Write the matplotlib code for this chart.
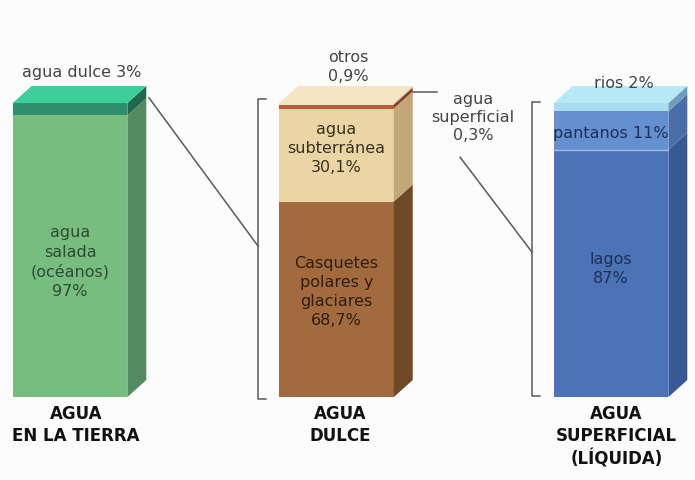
import numpy as np
import matplotlib.pyplot as plt
from matplotlib.patches import Polygon

# data: each column is a stack, bottom segment first (percent)
tierra_vals = [97, 3]
dulce_vals = [68.7, 30.1, 0.9, 0.3]
superficial_vals = [87, 11, 2]

tierra_labels = ["agua\nsalada\n(océanos)\n97%", "agua dulce 3%"]
dulce_labels = ["Casquetes\npolares y\nglaciares\n68,7%", "agua\nsubterránea\n30,1%", "otros\n0,9%", "agua\nsuperficial\n0,3%"]
superficial_labels = ["lagos\n87%", "pantanos 11%", "rios 2%"]
titles = ["AGUA\nEN LA TIERRA", "AGUA\nDULCE", "AGUA\nSUPERFICIAL\n(LÍQUIDA)"]

# colours (front, side) per segment, plus a top face colour per stack
tierra_front = ["#77bd80", "#2f8e6e"]
tierra_side = ["#548c60", "#22684f"]
dulce_front = ["#a36a3d", "#ecd5a4", "#b85a3e", "#f2e4c2"]
dulce_side = ["#6e4a28", "#c2a878", "#8a3e2c", "#d2bd93"]
sup_front = ["#4b73b5", "#6590d0", "#a8dcef"]
sup_side = ["#375a94", "#4a6ea8", "#6f9cc0"]
top_cols = ["#3ccf9c", "#f4e6c4", "#b6e9f6"]

fig = plt.figure(figsize=(6.95, 4.81), dpi=100)
ax = fig.add_axes([0, 0, 1, 1])
ax.set_xlim(-0.2588, 2.3105)
ax.set_ylim(-28.2, 135.4)
ax.axis("off")
fig.patch.set_facecolor("#fcfcfc")

xpos = [0, 0.985, 2]
w = 0.424
dx = 0.07
dy = 5.8
lc = "#5a5a5a"


def shares(vals):
    # mild compression so the thin slices stay visible, total kept at 100
    v = np.array(vals, dtype=float) ** 0.9
    return v / v.sum() * 100


def draw_stack(x, vals, fronts, sides, topc):
    h = shares(vals)
    bottoms = np.concatenate([[0], np.cumsum(h)[:-1]])
    ax.bar([x] * len(h), h, bottom=bottoms, width=w, color=fronts, linewidth=0, zorder=2)
    r = x + w / 2
    for b, v, sc in zip(bottoms, h, sides):
        ax.add_patch(Polygon([(r, b), (r + dx, b + dy), (r + dx, b + v + dy), (r, b + v)],
                             closed=True, facecolor=sc, edgecolor="none", zorder=2))
    top = bottoms[-1] + h[-1]
    ax.add_patch(Polygon([(x - w / 2, top), (x - w / 2 + dx, top + dy), (r + dx, top + dy), (r, top)],
                         closed=True, facecolor=topc, edgecolor="none", zorder=2))
    return bottoms, h, top


tb, th, ttop = draw_stack(xpos[0], tierra_vals, tierra_front, tierra_side, top_cols[0])
db, dh, dtop = draw_stack(xpos[1], dulce_vals, dulce_front, dulce_side, top_cols[1])
sb, sh, stop = draw_stack(xpos[2], superficial_vals, sup_front, sup_side, top_cols[2])

# thin light seam between lagos and pantanos
ax.plot([xpos[2] - w / 2, xpos[2] + w / 2], [sb[1], sb[1]], color="#9fbde8", lw=1, zorder=3)

fs = 11.5
ls = 1.35
# labels inside / around bars
ax.text(xpos[0], 46.3, tierra_labels[0], ha="center", va="center", fontsize=fs, color="#2e4a32", linespacing=ls, zorder=3)
ax.text(0.044, ttop + dy + 5, tierra_labels[1], ha="center", va="center", fontsize=fs, color="#444444")
ax.text(xpos[1], 36.1, dulce_labels[0], ha="center", va="center", fontsize=fs, color="#2a1f10", linespacing=ls, zorder=3)
ax.text(xpos[1], db[1] + dh[1] / 2 + 2.5, dulce_labels[1], ha="center", va="center", fontsize=fs, color="#3a3020", linespacing=ls, zorder=3)
ax.text(1.028, dtop + dy + 6.8, dulce_labels[2], ha="center", va="center", fontsize=fs, color="#444444", linespacing=ls)
ax.text(1.49, 95.6, dulce_labels[3], ha="center", va="center", fontsize=fs, color="#444444", linespacing=1.25)
ax.text(xpos[2], 90.1, superficial_labels[1], ha="center", va="center", fontsize=fs, color="#1d2f5a", zorder=3)
ax.text(xpos[2], 43.9, superficial_labels[0], ha="center", va="center", fontsize=fs, color="#1d2f5a", linespacing=ls, zorder=3)
ax.text(2.048, 107.1, superficial_labels[2], ha="center", va="center", fontsize=fs, color="#444444")

# titles under bars
for x, t in zip([0.022, 1.0, 2.02], titles):
    ax.text(x, -2.4, t, ha="center", va="top", fontsize=12, fontweight="bold",
            color="#111111", linespacing=1.3, family=["Liberation Sans Narrow", "DejaVu Sans"])

# brackets and connectors
bx1 = (258 - 70) / 270.5
bx2 = (532 - 70) / 270.5
tick = 0.03
ax.plot([bx1 + tick, bx1, bx1, bx1 + tick], [101.4, 101.4, -0.7, -0.7], color=lc, lw=1.1)
ax.plot([bx2 + tick, bx2, bx2, bx2 + tick], [100.3, 100.3, 0.3, 0.3], color=lc, lw=1.1)
ax.plot([xpos[0] + w / 2 + dx + 0.01, bx1], [ttop + dy - 4, 51.4], color=lc, lw=1.1)
ax.plot([xpos[1] + w / 2 + dx, 1.357], [dtop + dy - 2, dtop + dy - 2], color=lc, lw=1.1)
ax.plot([1.442, bx2], [81.6, 49.3], color=lc, lw=1.1)

fig.savefig("out.png", dpi=100, facecolor=fig.get_facecolor())
